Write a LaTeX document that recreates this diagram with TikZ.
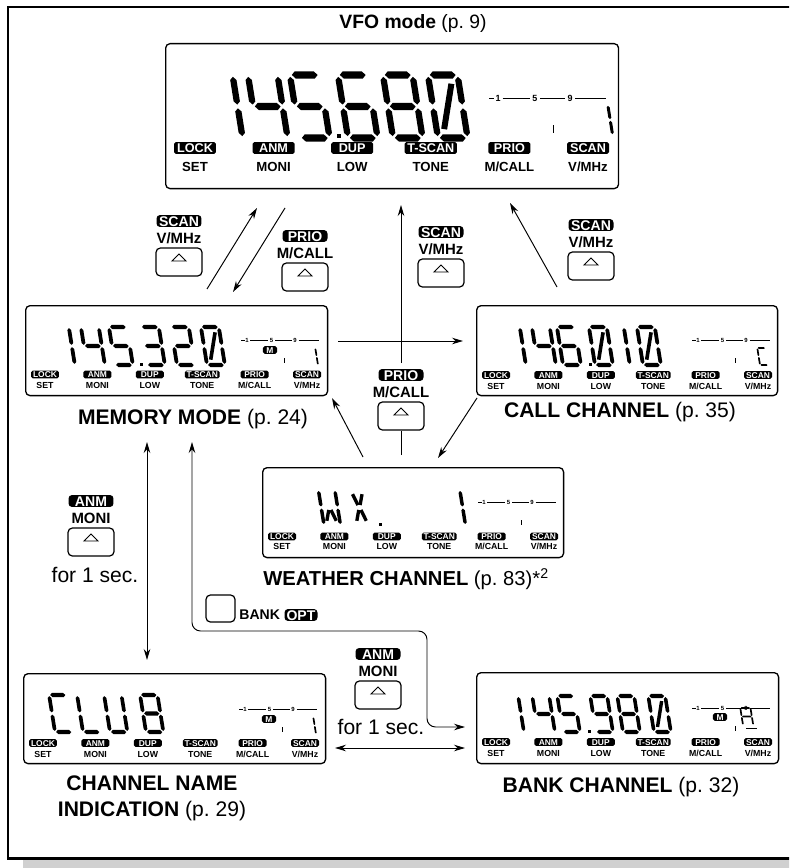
\documentclass[tikz,border=0pt]{standalone}
\usepackage{fontspec}
\setmainfont{Liberation Sans}
\usetikzlibrary{positioning}
\usetikzlibrary{arrows.meta}

\definecolor{shadowgray}{RGB}{208,208,208}

\newcommand{\lcdlw}{1}
\newcommand{\lcdh}{38}
% segment shapes (unit height)
\newcommand{\hseg}[3]{\fill (#1,#3) -- (#1+.055,#3+.058) -- (#2-.055,#3+.058) -- (#2,#3) -- (#2-.055,#3-.058) -- (#1+.055,#3-.058) -- cycle;}
\newcommand{\vseg}[3]{\fill (#3,#1) -- (#3+.05,#1+.05) -- (#3+.05,#2-.05) -- (#3,#2) -- (#3-.05,#2-.05) -- (#3-.05,#1+.05) -- cycle;}
\newcommand{\dseg}[2]{\draw[line width={\lcdlw*\lcdh*0.0019cm}, line cap=butt] #1 -- #2;}
\newcommand{\lcdsga}{\hseg{.03}{\lw-.03}{1}}
\newcommand{\lcdsgb}{\vseg{.53}{.97}{\lw}}
\newcommand{\lcdsgc}{\vseg{.03}{.47}{\lw}}
\newcommand{\lcdsgd}{\hseg{.03}{\lw-.03}{0}}
\newcommand{\lcdsge}{\vseg{.03}{.47}{0}}
\newcommand{\lcdsgf}{\vseg{.53}{.97}{0}}
\newcommand{\lcdsgg}{\hseg{.03}{\lw-.03}{.5}}
\newcommand{\lcdsgh}{\dseg{(.1,.88)}{(\lw/2-.03,.57)}}
\newcommand{\lcdsgi}{\dseg{(\lw-.1,.88)}{(\lw/2+.03,.57)}}
\newcommand{\lcdsgj}{\dseg{(\lw/2-.03,.43)}{(.1,.12)}}
\newcommand{\lcdsgk}{\dseg{(\lw/2+.03,.43)}{(\lw-.1,.12)}}
\newcommand{\lcdsgz}{\dseg{(.12,.14)}{(\lw-.12,.86)}}
% one LCD character: [width] {bottom left} {height} {segments}
\newcommand{\lcdchar}[4][0.47]{%
  \begin{scope}[shift={#2}, scale=#3, yscale=-1, xslant=0.16]
    \def\lw{#1}\def\lcdh{#3}
    \foreach \q in {#4} {\csname lcdsg\q\endcsname}
  \end{scope}}

% key labels under a display
\newcommand{\lcdkeys}[3]{%
  \foreach \tg/\lb [count=\i from 0] in {LOCK/SET, ANM/MONI, DUP/LOW, T-SCAN/TONE, PRIO/{M/CALL}, SCAN/{V/MHz}} {
    \node[keytag] (#1t\i) at ({20+52.4*\i},#2) {\tg};
    \node[keylab] (#1l\i) at ({20+52.4*\i},#3) {\lb};
  }}

% signal bar of a display
\newcommand{\lcdbar}[2]{%
  \draw[barline] (216,#2) -- (219.5,#2) (225,#2) -- (243,#2) (250,#2) -- (266.5,#2) (273.5,#2) -- (294,#2);
  \node[barnum] (#1n1) at (222,#2) {1};
  \node[barnum] (#1n5) at (246.5,#2) {5};
  \node[barnum] (#1n9) at (270,#2) {9};
  \draw[barline] (259,#2+18) -- (259,#2+23);}

% push button with its key labels
\newcommand{\keybtn}[5]{%
  \node[btnbox] (#1) at (#2,#3) {};
  \node[btntag] (#1t) at (#2,#3-41) {#4};
  \node[btnlab] (#1l) at (#2,#3-24) {#5};
  \draw[btntri] (#2-7,#3-1) -- (#2+7,#3-1) -- (#2,#3-8) -- cycle;}

\begin{document}
\begin{tikzpicture}[x=0.02cm, y=-0.02cm,
    lcdbox/.style = {draw, rounded corners=2.5pt, line width=0.75pt, anchor=north west, inner sep=0pt},
    keytag/.style = {fill=black, text=white, rounded corners=1pt, font=\bfseries\fontsize{4.8}{5}\selectfont,
                     minimum width=0.56cm, inner xsep=1pt, inner ysep=0.5pt, text height=3.5pt, text depth=0pt},
    keylab/.style = {font=\bfseries\fontsize{5}{6}\selectfont, inner sep=0pt},
    barline/.style = {line width=0.35pt},
    barnum/.style = {font=\bfseries\fontsize{3.4}{4}\selectfont, inner sep=0pt},
    btnbox/.style = {draw, rounded corners=2.5pt, line width=0.7pt, minimum width=0.92cm, minimum height=0.56cm},
    btntag/.style = {fill=black, text=white, rounded corners=2pt, font=\bfseries\fontsize{8}{9}\selectfont,
                     minimum width=0.9cm, inner xsep=1pt, inner ysep=0.5pt, text height=5.8pt, text depth=0pt},
    btnlab/.style = {font=\bfseries\fontsize{8.5}{10}\selectfont, inner sep=0pt},
    btntri/.style = {line width=0.5pt, line join=miter},
    title/.style = {font=\fontsize{12}{14}\selectfont, inner sep=0pt},
    arr/.style = {-{Stealth[length=2.2mm, width=1.3mm]}, line width=0.55pt},
    dblarr/.style = {{Stealth[length=2.2mm, width=1.3mm]}-{Stealth[length=2.2mm, width=1.3mm]}, line width=0.55pt},
    frame/.style = {line width=1.6pt}
    ]
  \useasboundingbox (0,0) rectangle (789,868);
  \clip (0,0) rectangle (789,868);

  % --- Frame ---
  \fill[shadowgray] (23,860) rectangle (800,868);
  \draw[frame] (800,7) -- (8,7) -- (8,858.5) -- (800,858.5);

  % --- Displays ---
  \node[lcdbox, minimum width=9.06cm, minimum height=2.9cm] (vfo) at (165,43) {};
  \node[lcdbox, minimum width=6.04cm, minimum height=1.8cm] (mem) at (25,305) {};
  \node[lcdbox, minimum width=6.02cm, minimum height=1.8cm] (call) at (476,305) {};
  \node[lcdbox, minimum width=6.02cm, minimum height=1.8cm] (wx) at (262,467) {};
  \node[lcdbox, minimum width=6.04cm, minimum height=1.8cm] (club) at (23,673) {};
  \node[lcdbox, minimum width=6.04cm, minimum height=1.82cm] (bank) at (476,672) {};

  % VFO mode
  \begin{scope}[shift={(vfo.north west)}, scale=1.5, transform shape]
    \renewcommand{\lcdlw}{1.5}
    \lcdchar{(32,63.3)}{42}{b,c}
    \lcdchar{(62,63.3)}{42}{f,g,b,c}
    \lcdchar{(90,63.3)}{42}{a,f,g,c,d}
    \fill (114.5,60.5) rectangle (117.5,63.5);
    \lcdchar{(122,63.3)}{42}{a,f,g,e,d,c}
    \lcdchar{(152,63.3)}{42}{a,b,c,d,e,f,g}
    \lcdchar{(182,63.3)}{42}{a,b,c,d,e,f,z}
    \lcdchar{(289,61.3)}{20}{b,c}
    \lcdbar{v}{36.7}
    \lcdkeys{v}{70}{82.7}
  \end{scope}

  % memory mode
  \begin{scope}[shift={(mem.north west)}]
    \lcdchar{(32,60)}{38}{b,c}
    \lcdchar{(62,60)}{38}{f,g,b,c}
    \lcdchar{(90,60)}{38}{a,f,g,c,d}
    \fill (114.5,57.5) rectangle (117.5,60.5);
    \lcdchar{(122,60)}{38}{a,b,g,c,d}
    \lcdchar{(152,60)}{38}{a,b,g,e,d}
    \lcdchar{(182,60)}{38}{a,b,c,d,e,f,z}
    \node[keytag, minimum width=0pt, inner xsep=2pt] (mm) at (245,45) {M};
    \lcdchar{(285,60)}{17}{b,c}
    \lcdbar{m}{35}
    \lcdkeys{m}{69.5}{80}
  \end{scope}

  % call channel
  \begin{scope}[shift={(call.north west)}]
    \lcdchar{(32,60)}{38}{b,c}
    \lcdchar{(62,60)}{38}{f,g,b,c}
    \lcdchar{(87,60)}{38}{a,f,g,e,d,c}
    \fill (112.5,57.5) rectangle (115.5,60.5);
    \lcdchar{(119,60)}{38}{a,b,c,d,e,f,z}
    \lcdchar{(136,60)}{38}{b,c}
    \lcdchar{(167,60)}{38}{a,b,c,d,e,f,z}
    \lcdchar{(284,60)}{17}{a,f,e,d}
    \lcdbar{c}{35}
    \lcdkeys{c}{70}{81}
  \end{scope}

  % weather channel
  \begin{scope}[shift={(wx.north west)}]
    \lcdchar{(62,58)}{35}{f,e,b,c,j,k}
    \lcdchar{(92,58)}{35}{h,i,j,k}
    \fill (116.5,55.5) rectangle (119.5,58.5);
    \lcdchar{(187,58)}{35}{b,c}
    \lcdbar{w}{35}
    \lcdkeys{w}{69.5}{79.5}
  \end{scope}

  % channel name
  \begin{scope}[shift={(club.north west)}]
    \lcdchar{(32,59)}{37}{a,f,e,d}
    \lcdchar{(60,59)}{37}{f,e,d}
    \lcdchar{(87,59)}{37}{f,e,d,c,b}
    \lcdchar{(123,59)}{37}{a,b,c,d,e,f,g}
    \node[keytag, minimum width=0pt, inner xsep=2pt] (clm) at (246,46) {M};
    \lcdchar{(285,61)}{17}{b,c}
    \lcdbar{l}{36}
    \lcdkeys{l}{70}{81}
  \end{scope}

  % bank channel
  \begin{scope}[shift={(bank.north west)}]
    \lcdchar{(31,60)}{36}{b,c}
    \lcdchar{(62,60)}{36}{f,g,b,c}
    \lcdchar{(87,60)}{36}{a,f,g,c,d}
    \fill (111.5,57.5) rectangle (114.5,60.5);
    \lcdchar{(120,60)}{36}{a,b,c,d,f,g}
    \lcdchar{(147,60)}{36}{a,b,c,d,e,f,g}
    \lcdchar{(178,60)}{36}{a,b,c,d,e,f,z}
    \node[keytag, minimum width=0pt, inner xsep=2pt] (bkm) at (244,45) {M};
    \lcdchar[0.6]{(267,53)}{17}{a,b,c,e,f,g}
    \draw[line width=0.8pt] (270,56.5) -- (281,56.5);
    \lcdbar{k}{36}
    \lcdkeys{k}{70}{81}
  \end{scope}

  % --- Titles ---
  \node[title, font=\fontsize{11}{13}\selectfont] (vfot) at (413,24) {\textbf{VFO mode} (p.~9)};
  \node[title] (memt) at (193,419) {\textbf{MEMORY MODE} (p.~24)};
  \node[title] (callt) at (620,412) {\textbf{CALL CHANNEL} (p.~35)};
  \node[title, font=\fontsize{11.5}{14}\selectfont, anchor=west] (wxt) at (263,579) {\textbf{WEATHER CHANNEL} (p.~83)*\textsuperscript{2}};
  \node[title, align=center] (clubt) at (152,798.5) {\textbf{CHANNEL NAME}\\[1pt] \textbf{INDICATION} (p.~29)};
  \node[title] (bankt) at (621,787) {\textbf{BANK CHANNEL} (p.~32)};

  % --- Keys ---
  \keybtn{b1}{179}{262}{SCAN}{V/MHz}
  \keybtn{b2}{305}{277}{PRIO}{M/CALL}
  \keybtn{b3}{441}{273}{SCAN}{V/MHz}
  \keybtn{b4}{591}{266}{SCAN}{V/MHz}
  \keybtn{b5}{401}{416}{PRIO}{M/CALL}
  \keybtn{b6}{91}{542}{ANM}{MONI}
  \keybtn{b7}{378}{695}{ANM}{MONI}
  \node[title] (s6) at (95,575) {for 1 sec.};
  \node[title] (s7) at (381,727) {for 1 sec.};
  \node[btnbox, minimum width=0.58cm, minimum height=0.54cm] (bk) at (220.5,608.5) {};
  \node[btnlab, font=\bfseries\fontsize{8}{10}\selectfont, anchor=west] (bkl) at (239,615) {BANK};
  \node[btntag, minimum width=0.66cm] (opt) at (301,615) {OPT};

  % --- Arrow ends ---
  \coordinate (m2v0) at (207,289);  \coordinate (m2v1) at (257,208);
  \coordinate (v2m0) at (285,208);  \coordinate (v2m1) at (233,292);
  \coordinate (w2b)  at (401,455);
  \coordinate (w2v0) at (401,363);  \coordinate (w2v1) at (401,205);
  \coordinate (c2v0) at (557,287);  \coordinate (c2v1) at (510,203);
  \coordinate (m2c0) at (338,341);  \coordinate (m2c1) at (463,341);
  \coordinate (w2m0) at (363,457);  \coordinate (w2m1) at (332,398);
  \coordinate (c2w0) at (477,398);  \coordinate (c2w1) at (438,458);
  \coordinate (mcl0) at (147,442);  \coordinate (mcl1) at (147,660);
  \coordinate (mbk0) at (192,442);  \coordinate (mbk1) at (192,631);
  \coordinate (mbk2) at (427,631);  \coordinate (mbk3) at (427,727);
  \coordinate (mbk4) at (465,727);
  \coordinate (lbk0) at (335,748);  \coordinate (lbk1) at (465,748);

  % --- Arrows ---
  \draw[arr] (m2v0) -- (m2v1);
  \draw[arr] (v2m0) -- (v2m1);
  \draw[line width=0.55pt] (w2b) -- (b5);
  \draw[arr] (w2v0) -- (w2v1);
  \draw[arr] (c2v0) -- (c2v1);
  \draw[arr] (m2c0) -- (m2c1);
  \draw[arr] (w2m0) -- (w2m1);
  \draw[arr] (c2w0) -- (c2w1);
  \draw[dblarr] (mcl0) -- (mcl1);
  \draw[dblarr, rounded corners=0.17cm] (mbk0) -- (mbk1) -- (mbk2) -- (mbk3) -- (mbk4);
  \draw[dblarr] (lbk0) -- (lbk1);

\end{tikzpicture}
\end{document}
